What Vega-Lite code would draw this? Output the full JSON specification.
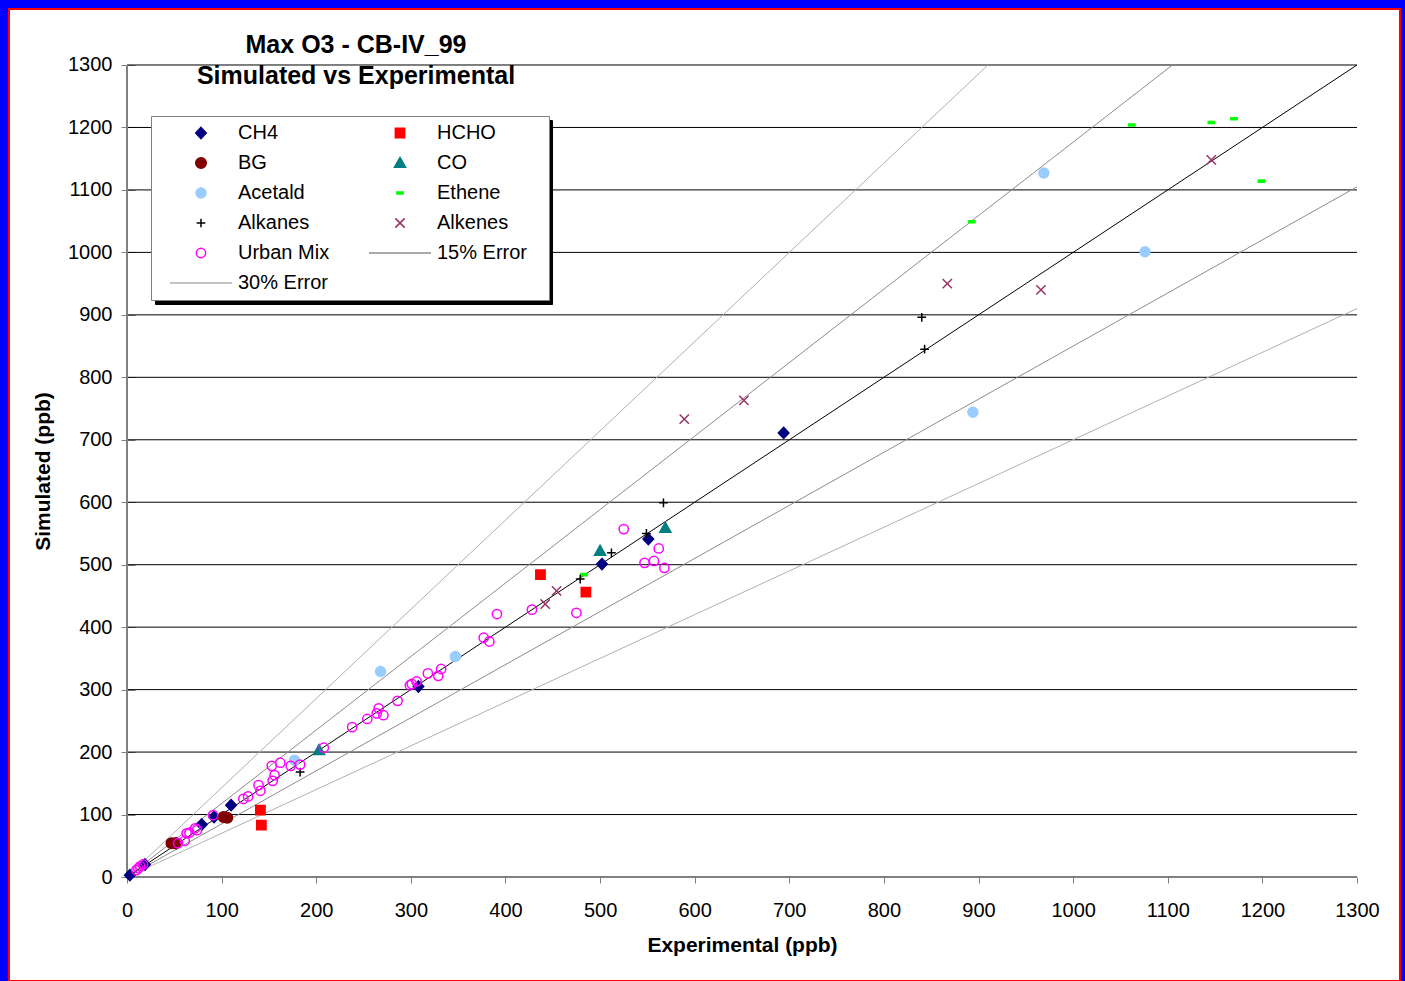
{
  "$schema": "https://vega.github.io/schema/vega-lite/v6.json",
  "width": 1391,
  "height": 972,
  "autosize": {"type": "none"},
  "padding": {"left": 9, "top": 9, "right": 5, "bottom": 0},
  "background": "#0000ff",
  "config": {
    "view": {"fill": "#ffffff", "stroke": "#ff0000", "strokeWidth": 2},
    "font": "Liberation Sans"
  },
  "title": {
    "text": ["Max O3 - CB-IV_99", "Simulated vs Experimental"],
    "anchor": "start",
    "frame": "group",
    "align": "center",
    "dx": 347,
    "offset": -99.5,
    "baseline": "alphabetic",
    "lineHeight": 31,
    "font": "Liberation Sans",
    "fontSize": 25,
    "fontWeight": "bold",
    "color": "#000000"
  },
  "datasets": {
    "grid": [{"y": 100}, {"y": 200}, {"y": 300}, {"y": 400}, {"y": 500}, {"y": 600}, {"y": 700}, {"y": 800}, {"y": 900}, {"y": 1000}, {"y": 1100}, {"y": 1200}, {"y": 1300}],
    "axlines": [{"x": 0, "y": 0, "x2": 0, "y2": 1300}, {"x": 0, "y": 0, "x2": 1300, "y2": 0}],
    "oneline": [{"kind": "1:1", "x": 0, "y": 0}, {"kind": "1:1", "x": 1300, "y": 1300}],
    "errlines": [
      {"line": "u15", "series": "15% Error", "x": 0, "y": 0}, {"line": "u15", "series": "15% Error", "x": 1105, "y": 1300},
      {"line": "l15", "series": "15% Error", "x": 0, "y": 0}, {"line": "l15", "series": "15% Error", "x": 1300, "y": 1105},
      {"line": "u30", "series": "30% Error", "x": 0, "y": 0}, {"line": "u30", "series": "30% Error", "x": 910, "y": 1300},
      {"line": "l30", "series": "30% Error", "x": 0, "y": 0}, {"line": "l30", "series": "30% Error", "x": 1300, "y": 910}
    ],
    "pts": [
      {"series": "CH4", "x": 3, "y": 3}, {"series": "CH4", "x": 19, "y": 20}, {"series": "CH4", "x": 52, "y": 54}, {"series": "CH4", "x": 79, "y": 84}, {"series": "CH4", "x": 92, "y": 96}, {"series": "CH4", "x": 110, "y": 115}, {"series": "CH4", "x": 308, "y": 305}, {"series": "CH4", "x": 502, "y": 501}, {"series": "CH4", "x": 551, "y": 541}, {"series": "CH4", "x": 694, "y": 711},
      {"series": "HCHO", "x": 141, "y": 107}, {"series": "HCHO", "x": 142, "y": 83}, {"series": "HCHO", "x": 437, "y": 484}, {"series": "HCHO", "x": 485, "y": 456},
      {"series": "BG", "x": 47, "y": 54}, {"series": "BG", "x": 51, "y": 54}, {"series": "BG", "x": 102, "y": 96}, {"series": "BG", "x": 106, "y": 95},
      {"series": "CO", "x": 203, "y": 203}, {"series": "CO", "x": 500, "y": 522}, {"series": "CO", "x": 569, "y": 559},
      {"series": "Acetald", "x": 177, "y": 187}, {"series": "Acetald", "x": 268, "y": 329}, {"series": "Acetald", "x": 347, "y": 353}, {"series": "Acetald", "x": 894, "y": 744}, {"series": "Acetald", "x": 969, "y": 1127}, {"series": "Acetald", "x": 1076, "y": 1001},
      {"series": "Ethene", "x": 483, "y": 484}, {"series": "Ethene", "x": 893, "y": 1049}, {"series": "Ethene", "x": 1062, "y": 1204}, {"series": "Ethene", "x": 1146, "y": 1208}, {"series": "Ethene", "x": 1170, "y": 1214}, {"series": "Ethene", "x": 1199, "y": 1114},
      {"series": "Alkanes", "x": 183, "y": 168}, {"series": "Alkanes", "x": 479, "y": 477}, {"series": "Alkanes", "x": 512, "y": 519}, {"series": "Alkanes", "x": 549, "y": 550}, {"series": "Alkanes", "x": 567, "y": 599}, {"series": "Alkanes", "x": 840, "y": 896}, {"series": "Alkanes", "x": 843, "y": 845},
      {"series": "Alkenes", "x": 442, "y": 437}, {"series": "Alkenes", "x": 454, "y": 458}, {"series": "Alkenes", "x": 589, "y": 733}, {"series": "Alkenes", "x": 652, "y": 763}, {"series": "Alkenes", "x": 867, "y": 950}, {"series": "Alkenes", "x": 966, "y": 940}, {"series": "Alkenes", "x": 1146, "y": 1148},
      {"series": "Urban Mix", "x": 10, "y": 11}, {"series": "Urban Mix", "x": 12, "y": 14}, {"series": "Urban Mix", "x": 14, "y": 17}, {"series": "Urban Mix", "x": 17, "y": 20},
      {"series": "Urban Mix", "x": 54, "y": 54}, {"series": "Urban Mix", "x": 61, "y": 58}, {"series": "Urban Mix", "x": 63, "y": 70}, {"series": "Urban Mix", "x": 66, "y": 71}, {"series": "Urban Mix", "x": 72, "y": 78}, {"series": "Urban Mix", "x": 74, "y": 75}, {"series": "Urban Mix", "x": 91, "y": 99},
      {"series": "Urban Mix", "x": 123, "y": 125}, {"series": "Urban Mix", "x": 128, "y": 129}, {"series": "Urban Mix", "x": 139, "y": 147}, {"series": "Urban Mix", "x": 141, "y": 138}, {"series": "Urban Mix", "x": 154, "y": 154}, {"series": "Urban Mix", "x": 156, "y": 163}, {"series": "Urban Mix", "x": 153, "y": 178}, {"series": "Urban Mix", "x": 162, "y": 183}, {"series": "Urban Mix", "x": 173, "y": 178}, {"series": "Urban Mix", "x": 183, "y": 180},
      {"series": "Urban Mix", "x": 208, "y": 207}, {"series": "Urban Mix", "x": 238, "y": 240}, {"series": "Urban Mix", "x": 254, "y": 253}, {"series": "Urban Mix", "x": 264, "y": 262}, {"series": "Urban Mix", "x": 266, "y": 270}, {"series": "Urban Mix", "x": 271, "y": 259}, {"series": "Urban Mix", "x": 286, "y": 282},
      {"series": "Urban Mix", "x": 299, "y": 307}, {"series": "Urban Mix", "x": 301, "y": 309}, {"series": "Urban Mix", "x": 306, "y": 313}, {"series": "Urban Mix", "x": 318, "y": 326}, {"series": "Urban Mix", "x": 329, "y": 322}, {"series": "Urban Mix", "x": 332, "y": 333},
      {"series": "Urban Mix", "x": 377, "y": 383}, {"series": "Urban Mix", "x": 383, "y": 377}, {"series": "Urban Mix", "x": 391, "y": 421}, {"series": "Urban Mix", "x": 428, "y": 428}, {"series": "Urban Mix", "x": 475, "y": 423},
      {"series": "Urban Mix", "x": 525, "y": 557}, {"series": "Urban Mix", "x": 547, "y": 503}, {"series": "Urban Mix", "x": 557, "y": 506}, {"series": "Urban Mix", "x": 562, "y": 526}, {"series": "Urban Mix", "x": 568, "y": 495}
    ]
  },
  "layer": [
    {
      "data": {"name": "grid"},
      "mark": {"type": "rule", "color": "#000000", "strokeWidth": 1},
      "encoding": {
        "y": {"field": "y", "type": "quantitative", "scale": {"domain": [-166.5, 1389.65], "nice": false, "zero": false}},
        "x": {"datum": 0, "type": "quantitative", "scale": {"domain": [-124.71, 1345.45], "nice": false, "zero": false}},
        "x2": {"datum": 1300}
      }
    },
    {
      "data": {"name": "axlines"},
      "mark": {"type": "rule", "color": "#808080", "strokeWidth": 2},
      "encoding": {
        "x": {"field": "x", "type": "quantitative", "scale": {"domain": [-124.71, 1345.45], "nice": false, "zero": false}},
        "y": {"field": "y", "type": "quantitative", "scale": {"domain": [-166.5, 1389.65], "nice": false, "zero": false}},
        "x2": {"field": "x2"},
        "y2": {"field": "y2"}
      }
    },
    {
      "data": {"name": "errlines"},
      "mark": {"type": "line", "strokeWidth": 1},
      "encoding": {
        "x": {"field": "x", "type": "quantitative", "scale": {"domain": [-124.71, 1345.45], "nice": false, "zero": false}},
        "y": {"field": "y", "type": "quantitative", "scale": {"domain": [-166.5, 1389.65], "nice": false, "zero": false}},
        "detail": {"field": "line", "type": "nominal"},
        "stroke": {
          "field": "series", "type": "nominal",
          "scale": {"domain": ["CH4", "HCHO", "BG", "CO", "Acetald", "Ethene", "Alkanes", "Alkenes", "Urban Mix", "15% Error", "30% Error"],
                    "range": ["#000080", "#ff0000", "#800000", "#008080", "#99ccff", "#00ff00", "#000000", "#993366", "#ff00ff", "#8c8c8c", "#b0b0b0"]}
        }
      }
    },
    {
      "data": {"name": "oneline"},
      "mark": {"type": "line", "color": "#000000", "strokeWidth": 1},
      "encoding": {
        "x": {"field": "x", "type": "quantitative", "scale": {"domain": [-124.71, 1345.45], "nice": false, "zero": false}},
        "y": {"field": "y", "type": "quantitative", "scale": {"domain": [-166.5, 1389.65], "nice": false, "zero": false}},
        "opacity": {
          "field": "kind", "type": "ordinal",
          "scale": {"domain": ["1:1"], "range": [1]},
          "legend": {
            "orient": "none", "legendX": 146, "legendY": 111, "zindex": 1,
            "title": null, "padding": 80, "clipHeight": 24,
            "symbolType": "stroke", "symbolSize": 56169, "symbolStrokeWidth": 0, "symbolOpacity": 0, "symbolOffset": 0,
            "labelFontSize": 1, "labelOffset": 0, "labelOpacity": 0, "labelExpr": "''",
            "fillColor": "#000000", "strokeColor": "#000000"
          }
        }
      }
    },
    {
      "data": {"name": "pts"},
      "mark": {"type": "point", "filled": true, "size": 3844, "strokeWidth": 1.5, "opacity": 1},
      "encoding": {
        "x": {
          "field": "x", "type": "quantitative",
          "scale": {"domain": [-124.71, 1345.45], "nice": false, "zero": false},
          "axis": {
            "values": [0, 100, 200, 300, 400, 500, 600, 700, 800, 900, 1000, 1100, 1200, 1300],
            "format": "d",
            "orient": "bottom", "offset": -104, "grid": false, "domain": false,
            "tickSize": 6, "tickColor": "#808080", "tickWidth": 1,
            "labelFont": "Liberation Sans", "labelFontSize": 20, "labelColor": "#000000", "labelPadding": 17,
            "labelFlush": false, "labelOverlap": false, "labelBound": false,
            "title": "Experimental (ppb)", "titleFont": "Liberation Sans", "titleFontSize": 21, "titleFontWeight": "bold", "titleColor": "#000000",
            "titleX": 733, "titleY": 74.5, "titleAlign": "center", "titleBaseline": "alphabetic"
          }
        },
        "y": {
          "field": "y", "type": "quantitative",
          "scale": {"domain": [-166.5, 1389.65], "nice": false, "zero": false},
          "axis": {
            "values": [0, 100, 200, 300, 400, 500, 600, 700, 800, 900, 1000, 1100, 1200, 1300],
            "format": "d",
            "orient": "left", "offset": -126, "grid": false, "domain": false,
            "tickSize": 14, "tickColor": "#808080", "tickWidth": 1,
            "labelFont": "Liberation Sans", "labelFontSize": 20, "labelColor": "#000000", "labelPadding": 9,
            "labelFlush": false, "labelOverlap": false, "labelBound": false,
            "title": "Simulated (ppb)", "titleFont": "Liberation Sans", "titleFontSize": 21, "titleFontWeight": "bold", "titleColor": "#000000",
            "titleX": -86, "titleY": 462, "titleAngle": -90, "titleAlign": "center", "titleBaseline": "alphabetic"
          }
        },
        "shape": {
          "field": "series", "type": "nominal",
          "scale": {"domain": ["CH4", "HCHO", "BG", "CO", "Acetald", "Ethene", "Alkanes", "Alkenes", "Urban Mix", "15% Error", "30% Error"],
                    "range": [
                      "M0,-0.18L0.17,0L0,0.18L-0.17,0Z",
                      "M-0.15,-0.15H0.15V0.15H-0.15Z",
                      "M0.17,0C0.17,0.0939,0.0939,0.17,0,0.17C-0.0939,0.17,-0.17,0.0939,-0.17,0C-0.17,-0.0939,-0.0939,-0.17,0,-0.17C0.0939,-0.17,0.17,-0.0939,0.17,0Z",
                      "M0,-0.18L0.18,0.14L-0.18,0.14Z",
                      "M0.16,0C0.16,0.0884,0.0884,0.16,0,0.16C-0.0884,0.16,-0.16,0.0884,-0.16,0C-0.16,-0.0884,-0.0884,-0.16,0,-0.16C0.0884,-0.16,0.16,-0.0884,0.16,0Z",
                      "M-0.1,-0.035H0.1V0.035H-0.1Z",
                      "M-0.14,0H0.14M0,-0.14V0.14",
                      "M-0.15,-0.15L0.15,0.15M-0.15,0.15L0.15,-0.15",
                      "M0.15,0C0.15,0.0828,0.0828,0.15,0,0.15C-0.0828,0.15,-0.15,0.0828,-0.15,0C-0.15,-0.0828,-0.0828,-0.15,0,-0.15C0.0828,-0.15,0.15,-0.0828,0.15,0Z",
                      "M-1,0H1",
                      "M-1,0H1"
                    ]},
          "legend": {
            "orient": "none", "legendX": 142, "legendY": 107, "zindex": 2,
            "columns": 2, "direction": "horizontal",
            "title": " ", "titleOrient": "left", "titleFontSize": 1, "titlePadding": 12,
            "padding": 6, "rowPadding": 8, "columnPadding": 38, "clipHeight": 22,
            "symbolSize": 3844, "symbolStrokeWidth": 1.5, "symbolOffset": 0,
            "labelFont": "Liberation Sans", "labelFontSize": 20, "labelColor": "#000000", "labelOffset": 5, "labelLimit": 400,
            "labelExpr": "indexof(['HCHO','CO','Ethene','Alkenes','15% Error'], datum.label) >= 0 ? datum.label + '\u2800' : datum.label",
            "strokeColor": "#808080", "fillColor": "#ffffff",
            "encode": {
              "legend": {"update": {"strokeDash": {"value": [1, 1]}, "strokeWidth": {"value": 1}}}
            }
          }
        },
        "fill": {
          "field": "series", "type": "nominal",
          "scale": {"domain": ["CH4", "HCHO", "BG", "CO", "Acetald", "Ethene", "Alkanes", "Alkenes", "Urban Mix", "15% Error", "30% Error"],
                    "range": ["#000080", "#ff0000", "#800000", "#008080", "#99ccff", "#00ff00", "transparent", "transparent", "transparent", "transparent", "transparent"]}
        },
        "stroke": {
          "field": "series", "type": "nominal",
          "scale": {"domain": ["CH4", "HCHO", "BG", "CO", "Acetald", "Ethene", "Alkanes", "Alkenes", "Urban Mix", "15% Error", "30% Error"],
                    "range": ["#000080", "#ff0000", "#800000", "#008080", "#99ccff", "#00ff00", "#000000", "#993366", "#ff00ff", "#8c8c8c", "#b0b0b0"]}
        }
      }
    }
  ]
}
